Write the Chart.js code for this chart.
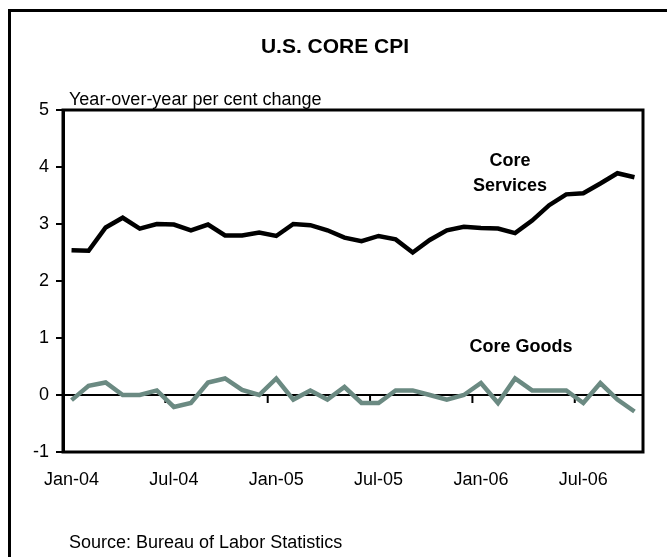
<!DOCTYPE html>
<html>
<head>
<meta charset="utf-8">
<title>U.S. Core CPI</title>
<script src="https://cdn.jsdelivr.net/npm/chart.js@4/dist/chart.umd.min.js"></script>
<style>
    html, body { margin: 0; padding: 0; background: #fff; }
    #wrap { position: relative; width: 667px; height: 557px; overflow: hidden; }
</style>
</head>
<body>
<div id="wrap"><canvas id="cpiChart" width="667" height="557"></canvas></div>
<script>
// Monthly data, Jan-04 to Oct-06
const months = [
    'Jan-04', 'Feb-04', 'Mar-04', 'Apr-04', 'May-04', 'Jun-04',
    'Jul-04', 'Aug-04', 'Sep-04', 'Oct-04', 'Nov-04', 'Dec-04',
    'Jan-05', 'Feb-05', 'Mar-05', 'Apr-05', 'May-05', 'Jun-05',
    'Jul-05', 'Aug-05', 'Sep-05', 'Oct-05', 'Nov-05', 'Dec-05',
    'Jan-06', 'Feb-06', 'Mar-06', 'Apr-06', 'May-06', 'Jun-06',
    'Jul-06', 'Aug-06', 'Sep-06', 'Oct-06'
];
const coreServices = [
    2.54, 2.53, 2.94, 3.11, 2.92, 3.00, 2.99, 2.89, 2.99, 2.80, 2.80, 2.85,
    2.79, 3.00, 2.98, 2.89, 2.76, 2.70, 2.79, 2.73, 2.50, 2.72, 2.89, 2.95,
    2.93, 2.92, 2.84, 3.06, 3.33, 3.52, 3.54, 3.71, 3.89, 3.82
];
const coreGoods = [
    -0.09, 0.16, 0.22, 0.00, 0.00, 0.08, -0.21, -0.14, 0.22, 0.29, 0.09, 0.00,
    0.29, -0.08, 0.08, -0.08, 0.14, -0.14, -0.14, 0.08, 0.08, 0.00, -0.08, 0.00,
    0.21, -0.14, 0.29, 0.08, 0.08, 0.08, -0.14, 0.21, -0.08, -0.29
];
const shownTicks = ['Jan-04', 'Jul-04', 'Jan-05', 'Jul-05', 'Jan-06', 'Jul-06'];

const FONT = "'Liberation Sans', Arial, sans-serif";
const GOODS_COLOR = '#6b8a82';

document.addEventListener("DOMContentLoaded", () => {
    // frame, zero line, axis ticks at zero, and the text annotations
    const decor = {
        id: 'decor',
        beforeDatasetsDraw(chart) {
            const { ctx, chartArea: a, scales } = chart;
            const y0 = scales.y.getPixelForValue(0);
            ctx.save();
            ctx.strokeStyle = '#000';
            ctx.lineWidth = 2;
            ctx.beginPath();
            ctx.moveTo(a.left, y0);
            ctx.lineTo(a.right, y0);
            // small ticks hanging under the zero line, between categories
            months.forEach((m, i) => {
                if (i > 0 && i % 6 === 0) {
                    const x = (scales.x.getPixelForValue(i - 1) + scales.x.getPixelForValue(i)) / 2;
                    ctx.moveTo(x, y0);
                    ctx.lineTo(x, y0 + 8);
                }
            });
            ctx.stroke();

            ctx.lineWidth = 3;
            ctx.strokeRect(a.left, a.top, a.right - a.left, a.bottom - a.top);
            ctx.restore();
        },
        afterDraw(chart) {
            const { ctx } = chart;
            ctx.save();
            // outer border (runs off the right and bottom edge)
            ctx.strokeStyle = '#000';
            ctx.lineWidth = 3;
            ctx.strokeRect(9.5, 10.5, 720, 620);

            ctx.fillStyle = '#000';
            ctx.textBaseline = 'alphabetic';

            ctx.font = `bold 21px ${FONT}`;
            ctx.textAlign = 'center';
            ctx.fillText('U.S. CORE CPI', 335, 53);

            ctx.font = `18px ${FONT}`;
            ctx.textAlign = 'left';
            ctx.fillText('Year-over-year per cent change', 69, 105);
            ctx.fillText('Source: Bureau of Labor Statistics', 69, 548);

            ctx.font = `bold 18px ${FONT}`;
            ctx.textAlign = 'center';
            ctx.fillText('Core', 510, 166);
            ctx.fillText('Services', 510, 191);
            ctx.fillText('Core Goods', 521, 352);
            ctx.restore();
        }
    };

    new Chart(document.getElementById('cpiChart'), {
        type: 'line',
        data: {
            labels: months,
            datasets: [
                {
                    label: 'Core Services',
                    data: coreServices,
                    borderColor: '#000',
                    borderWidth: 4.5,
                    pointRadius: 0,
                    tension: 0
                },
                {
                    label: 'Core Goods',
                    data: coreGoods,
                    borderColor: GOODS_COLOR,
                    borderWidth: 4.5,
                    pointRadius: 0,
                    tension: 0
                }
            ]
        },
        options: {
            responsive: false,
            animation: false,
            layout: { padding: { top: 110, right: 24, left: 0, bottom: 0 } },
            plugins: {
                legend: { display: false },
                title: { display: false },
                tooltip: { enabled: false }
            },
            scales: {
                x: {
                    offset: true,
                    grid: { display: false, drawTicks: false },
                    border: { display: false },
                    ticks: {
                        autoSkip: false,
                        maxRotation: 0,
                        padding: 17,
                        color: '#000',
                        font: { family: FONT, size: 18 },
                        callback: function (v, i) {
                            const lab = this.getLabelForValue(v);
                            return shownTicks.includes(lab) ? lab : null;
                        }
                    },
                    afterFit: (scale) => { scale.height = 105; }
                },
                y: {
                    min: -1,
                    max: 5,
                    grid: {
                        drawOnChartArea: false,
                        drawTicks: true,
                        tickLength: 7,
                        color: '#000',
                        lineWidth: 2
                    },
                    border: { display: true, color: '#000', width: 3 },
                    ticks: {
                        stepSize: 1,
                        padding: 7,
                        color: '#000',
                        font: { family: FONT, size: 18 }
                    },
                    afterFit: (scale) => { scale.width = 63; }
                }
            }
        },
        plugins: [decor]
    });
});
</script>
</body>
</html>
